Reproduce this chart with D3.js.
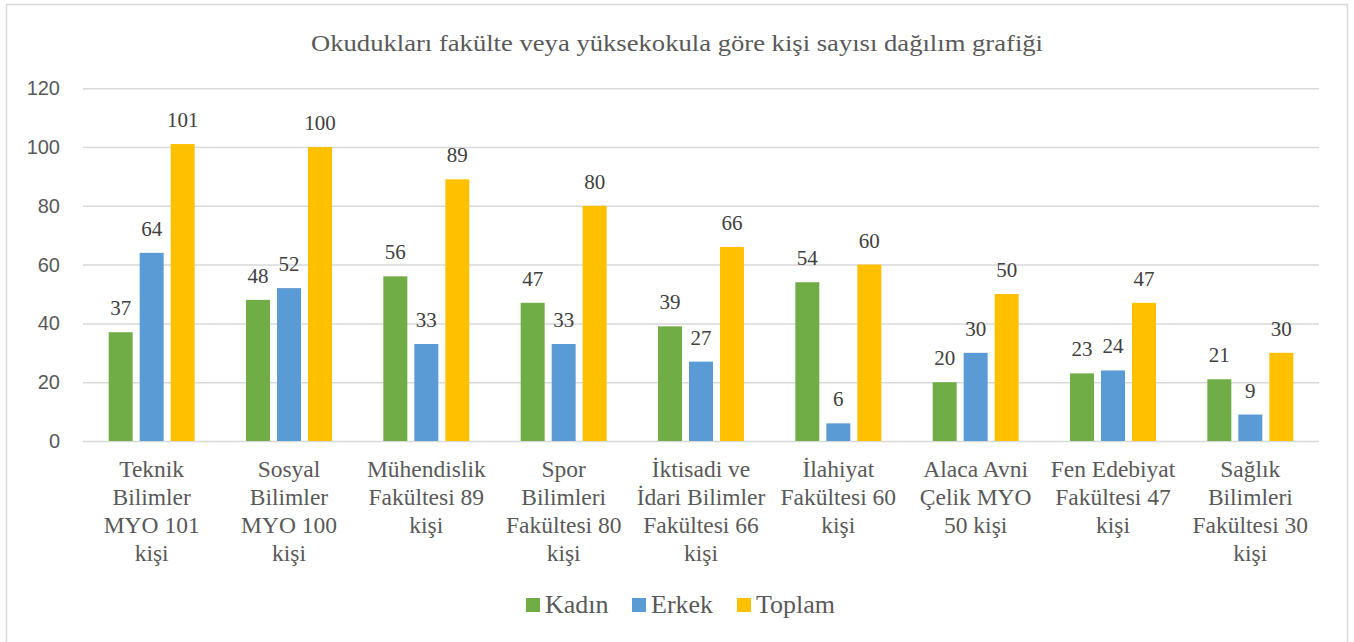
<!DOCTYPE html>
<html><head><meta charset="utf-8">
<script src="https://cdn.jsdelivr.net/npm/d3@7"></script>
</head><body style="margin:0">
<svg id="c" width="1354" height="642" style="font-family:'Liberation Serif','Times New Roman',Tinos,FreeSerif,serif"></svg>
<script>
const title = "Okudukları fakülte veya yüksekokula göre kişi sayısı dağılım grafiği";
const categories = ["Teknik Bilimler MYO 101 kişi","Sosyal Bilimler MYO 100 kişi","Mühendislik Fakültesi 89 kişi","Spor Bilimleri Fakültesi 80 kişi","İktisadi ve İdari Bilimler Fakültesi 66 kişi","İlahiyat Fakültesi 60 kişi","Alaca Avni Çelik MYO 50 kişi","Fen Edebiyat Fakültesi 47 kişi","Sağlık Bilimleri Fakültesi 30 kişi"];
const categoryLines = [
  ["Teknik","Bilimler","MYO 101","kişi"],
  ["Sosyal","Bilimler","MYO 100","kişi"],
  ["Mühendislik","Fakültesi 89","kişi"],
  ["Spor","Bilimleri","Fakültesi 80","kişi"],
  ["İktisadi ve","İdari Bilimler","Fakültesi 66","kişi"],
  ["İlahiyat","Fakültesi 60","kişi"],
  ["Alaca Avni","Çelik MYO","50 kişi"],
  ["Fen Edebiyat","Fakültesi 47","kişi"],
  ["Sağlık","Bilimleri","Fakültesi 30","kişi"]
];
const seriesNames = ["Kadın","Erkek","Toplam"];
const kadin  = [37,48,56,47,39,54,20,23,21];
const erkek  = [64,52,33,33,27,6,30,24,9];
const toplam = [101,100,89,80,66,60,50,47,30];
const yTicks = [0,20,40,60,80,100,120];
const colors = ["#70AD47","#5B9BD5","#FFC000"];

(function(){
const seriesValues = [kadin, erkek, toplam];
const svg = d3.select("#c");
const SERIF = "Times New Roman";
const SANS = "Liberation Sans";
const textCol = "#595959";

svg.append("rect").attr("x",6.5).attr("y",4.5).attr("width",1341).attr("height",645)
  .attr("fill","#fff").attr("stroke","#D9D9D9").attr("stroke-width",1.5);

const pL = 83, pR = 1319, pT = 88.2, pB = 441;
const x0 = d3.scaleBand().domain(categories).range([pL,pR]).padding(0);
const y = d3.scaleLinear().domain([0,120]).range([pB, pT]);
const bw = x0.bandwidth();
const x1 = d3.scaleBand().domain(seriesNames).range([bw/2-46.5, bw/2+46.5]).paddingInner(7/31).paddingOuter(3.5/31);

svg.append("text").attr("x",677).attr("y",51).attr("text-anchor","middle")
  .attr("font-family",SERIF).attr("font-size",24).attr("fill",textCol)
  .attr("textLength",732).attr("lengthAdjust","spacingAndGlyphs").text(title);

const yAxis = d3.axisLeft(y).tickValues(yTicks).tickSize(-(pR-pL)).tickPadding(23);
const gy = svg.append("g").attr("transform",`translate(${pL},0)`).call(yAxis);
gy.select(".domain").remove();
gy.selectAll(".tick line").attr("stroke","#D9D9D9").attr("stroke-width",1.5);
gy.selectAll(".tick text").attr("font-family",SANS).attr("font-size",20).attr("fill",textCol);

const rows = categories.map((c,i)=>({c, vals: seriesNames.map((s,j)=>({s, v: seriesValues[j][i], col: colors[j]}))}));
const g = svg.selectAll("g.cat").data(rows).enter().append("g").attr("class","cat")
  .attr("transform",d=>`translate(${x0(d.c)},0)`);
g.selectAll("rect").data(d=>d.vals).enter().append("rect")
  .attr("x",d=>x1(d.s)).attr("width",x1.bandwidth())
  .attr("y",d=>y(d.v)).attr("height",d=>y(0)-y(d.v)).attr("fill",d=>d.col);
g.selectAll("text.lbl").data(d=>d.vals).enter().append("text").attr("class","lbl")
  .attr("x",d=>x1(d.s)+x1.bandwidth()/2).attr("y",d=>y(d.v)-17)
  .attr("text-anchor","middle").attr("font-family",SERIF).attr("font-size",21).attr("fill","#404040")
  .text(d=>d.v);

const xl = svg.selectAll("text.xl").data(categories).enter().append("text").attr("class","xl")
  .attr("x",d=>x0(d)+bw/2).attr("y",477).attr("text-anchor","middle")
  .attr("font-family",SERIF).attr("font-size",23.5).attr("fill",textCol);
xl.selectAll("tspan").data((d,i)=>categoryLines[i]).enter().append("tspan")
  .attr("x",function(){return this.parentNode.getAttribute("x");})
  .attr("dy",(d,i)=>i===0?0:28).text(d=>d);

const legX = [526,632,737];
const lg = svg.selectAll("g.leg").data(seriesNames).enter().append("g").attr("class","leg")
  .attr("transform",(d,i)=>`translate(${legX[i]},598)`);
lg.append("rect").attr("width",14).attr("height",14).attr("fill",(d,i)=>colors[i]);
lg.append("text").attr("x",19).attr("y",15).attr("font-family",SERIF).attr("font-size",26)
  .attr("fill",textCol).text(d=>d);
})();
</script>
</body></html>
